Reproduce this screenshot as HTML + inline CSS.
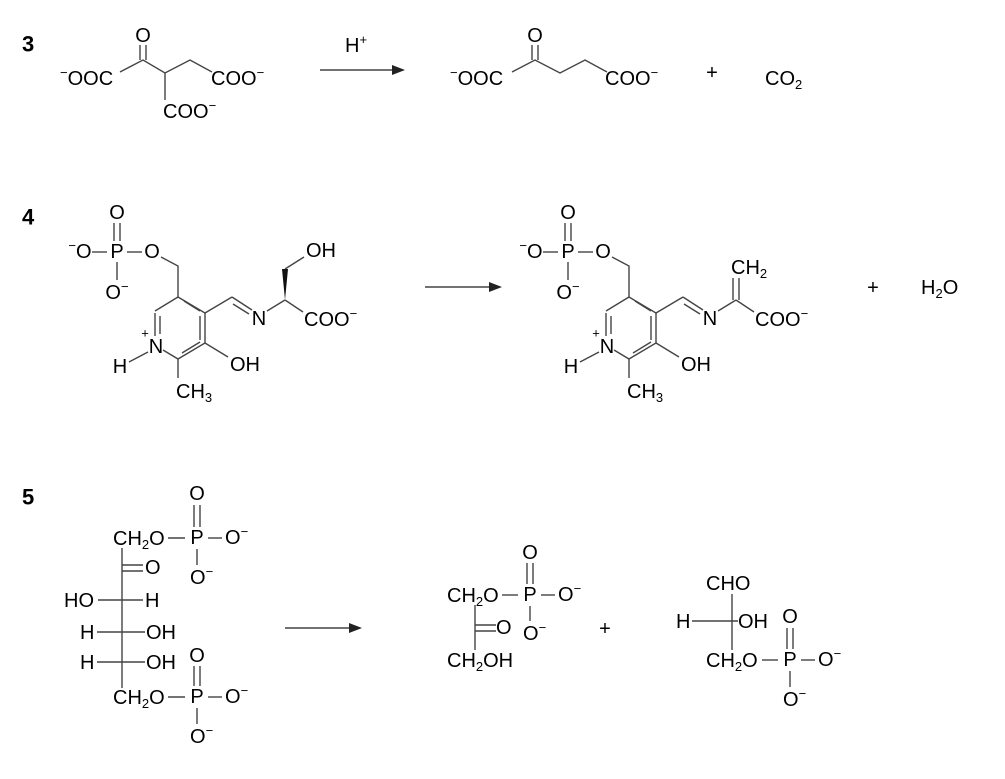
<!DOCTYPE html>
<html><head><meta charset="utf-8"><style>
body{margin:0;background:#fff}
svg{display:block}
text{font-family:"Liberation Sans",Arial,sans-serif;font-size:20px;fill:#000;dominant-baseline:central}
.b{font-weight:bold;font-size:22px}
.s{font-size:13px}
line,polyline{stroke:#444;stroke-width:1.4;fill:none}
</style></head><body>
<svg width="1005" height="779" viewBox="0 0 1005 779">
<!-- Reaction 3 -->
<text class="b" x="22" y="44">3</text>
<text x="60" y="79"><tspan class="s" dy="-7">−</tspan><tspan dy="7">OOC</tspan></text>
<polyline points="120,72 143,60 165,73 190,60 212,72"/>
<line x1="140" y1="45" x2="140" y2="60"/><line x1="146" y1="45" x2="146" y2="60"/>
<text x="143" y="36" text-anchor="middle">O</text>
<line x1="165" y1="73" x2="165" y2="100"/>
<text x="211" y="79">COO<tspan class="s" dy="-7">−</tspan></text>
<text x="163" y="112">COO<tspan class="s" dy="-7">−</tspan></text>
<line x1="320" y1="70" x2="395" y2="70"/><polygon points="405,70 392,65 392,75" fill="#222"/>
<text x="345" y="46">H<tspan class="s" dy="-7">+</tspan></text>
<text x="450" y="79"><tspan class="s" dy="-7">−</tspan><tspan dy="7">OOC</tspan></text>
<polyline points="512,72 535,60 560,73 585,60 607,72"/>
<line x1="532" y1="45" x2="532" y2="60"/><line x1="538" y1="45" x2="538" y2="60"/>
<text x="535" y="36" text-anchor="middle">O</text>
<text x="605" y="79">COO<tspan class="s" dy="-7">−</tspan></text>
<text x="712" y="73" text-anchor="middle">+</text>
<text x="765" y="79">CO<tspan class="s" dy="5">2</tspan></text>

<!-- Reaction 4 -->
<text class="b" x="22" y="217">4</text>
<g id="plp">
<text x="117" y="213" text-anchor="middle">O</text>
<line x1="114" y1="223" x2="114" y2="241"/><line x1="120" y1="223" x2="120" y2="241"/>
<text x="117" y="252" text-anchor="middle">P</text>
<text x="80" y="252" text-anchor="middle"><tspan class="s" dy="-7">−</tspan><tspan dy="7">O</tspan></text>
<line x1="92" y1="252" x2="107" y2="252"/><line x1="127" y1="252" x2="142" y2="252"/>
<text x="152" y="252" text-anchor="middle">O</text>
<line x1="117" y1="262" x2="117" y2="280"/>
<text x="117" y="293" text-anchor="middle">O<tspan class="s" dy="-7">−</tspan></text>
<polyline points="161,257 178,266 178,297"/>
<polyline points="178,297 205,313 205,343 178,359 163,350"/>
<line x1="178" y1="297" x2="155" y2="311"/>
<line x1="155" y1="313" x2="155" y2="336"/>
<line x1="160" y1="316" x2="160" y2="334"/>
<line x1="200" y1="316" x2="200" y2="340"/>
<line x1="182" y1="353" x2="200" y2="342"/>
<line x1="184" y1="301" x2="200" y2="311"/>
<text x="156" y="347" text-anchor="middle">N</text>
<text x="145" y="333" class="s" text-anchor="middle">+</text>
<line x1="148" y1="352" x2="129" y2="362"/>
<text x="120" y="367" text-anchor="middle">H</text>
<line x1="178" y1="359" x2="178" y2="378"/>
<text x="176" y="392">CH<tspan class="s" dy="5">3</tspan></text>
<line x1="205" y1="343" x2="228" y2="357"/>
<text x="230" y="365">OH</text>
<line x1="205" y1="313" x2="232" y2="297"/>
<line x1="232" y1="297" x2="252" y2="310"/>
<line x1="233" y1="304" x2="249" y2="314"/>
<text x="259" y="319" text-anchor="middle">N</text>
<line x1="267" y1="311" x2="285" y2="300"/>
<line x1="285" y1="300" x2="303" y2="312"/>
<text x="304" y="320">COO<tspan class="s" dy="-7">−</tspan></text>
</g>
<polygon points="285,300 282,269 288,269" fill="#111"/>
<line x1="285" y1="269" x2="304" y2="257"/>
<text x="306" y="251">OH</text>
<use href="#plp" x="451"/>
<line x1="733" y1="300" x2="733" y2="278"/><line x1="739" y1="300" x2="739" y2="278"/>
<text x="731" y="268">CH<tspan class="s" dy="5">2</tspan></text>
<line x1="425" y1="287" x2="492" y2="287"/><polygon points="502,287 489,282 489,292" fill="#222"/>
<text x="873" y="288" text-anchor="middle">+</text>
<text x="921" y="288">H<tspan class="s" dy="5">2</tspan><tspan dy="-5">O</tspan></text>

<!-- Reaction 5 -->
<text class="b" x="22" y="497">5</text>
<text x="113" y="539">CH<tspan class="s" dy="5">2</tspan><tspan dy="-5">O</tspan></text>
<line x1="168" y1="538" x2="185" y2="538"/>
<text x="197" y="538" text-anchor="middle">P</text>
<line x1="194" y1="505" x2="194" y2="527"/><line x1="200" y1="505" x2="200" y2="527"/>
<text x="197" y="494" text-anchor="middle">O</text>
<line x1="208" y1="538" x2="222" y2="538"/>
<text x="225" y="538">O<tspan class="s" dy="-7">−</tspan></text>
<line x1="197" y1="549" x2="197" y2="565"/>
<text x="190" y="578">O<tspan class="s" dy="-7">−</tspan></text>
<line x1="122" y1="548" x2="122" y2="688"/>
<line x1="122" y1="565" x2="143" y2="565"/><line x1="122" y1="571" x2="143" y2="571"/>
<text x="145" y="568">O</text>
<text x="64" y="601">HO</text>
<line x1="98" y1="600" x2="143" y2="600"/>
<text x="145" y="601">H</text>
<text x="80" y="633">H</text>
<line x1="97" y1="632" x2="145" y2="632"/>
<text x="146" y="633">OH</text>
<text x="80" y="663">H</text>
<line x1="97" y1="662" x2="145" y2="662"/>
<text x="146" y="663">OH</text>
<text x="113" y="698">CH<tspan class="s" dy="5">2</tspan><tspan dy="-5">O</tspan></text>
<line x1="168" y1="697" x2="185" y2="697"/>
<text x="197" y="697" text-anchor="middle">P</text>
<line x1="194" y1="666" x2="194" y2="686"/><line x1="200" y1="666" x2="200" y2="686"/>
<text x="197" y="656" text-anchor="middle">O</text>
<line x1="208" y1="697" x2="222" y2="697"/>
<text x="225" y="697">O<tspan class="s" dy="-7">−</tspan></text>
<line x1="197" y1="708" x2="197" y2="724"/>
<text x="190" y="737">O<tspan class="s" dy="-7">−</tspan></text>
<line x1="285" y1="628" x2="352" y2="628"/><polygon points="362,628 349,623 349,633" fill="#222"/>
<!-- DHAP -->
<text x="447" y="596">CH<tspan class="s" dy="5">2</tspan><tspan dy="-5">O</tspan></text>
<line x1="502" y1="595" x2="518" y2="595"/>
<text x="530" y="595" text-anchor="middle">P</text>
<line x1="527" y1="563" x2="527" y2="584"/><line x1="533" y1="563" x2="533" y2="584"/>
<text x="530" y="553" text-anchor="middle">O</text>
<line x1="541" y1="595" x2="555" y2="595"/>
<text x="558" y="595">O<tspan class="s" dy="-7">−</tspan></text>
<line x1="530" y1="606" x2="530" y2="621"/>
<text x="523" y="634">O<tspan class="s" dy="-7">−</tspan></text>
<line x1="475" y1="605" x2="475" y2="650"/>
<line x1="475" y1="625" x2="496" y2="625"/><line x1="475" y1="631" x2="496" y2="631"/>
<text x="496" y="628">O</text>
<text x="447" y="661">CH<tspan class="s" dy="5">2</tspan><tspan dy="-5">OH</tspan></text>
<text x="605" y="629" text-anchor="middle">+</text>
<!-- G3P -->
<text x="706" y="584">CHO</text>
<line x1="732" y1="594" x2="732" y2="650"/>
<text x="676" y="622">H</text>
<line x1="692" y1="621" x2="738" y2="621"/>
<text x="738" y="622">OH</text>
<text x="706" y="661">CH<tspan class="s" dy="5">2</tspan><tspan dy="-5">O</tspan></text>
<line x1="762" y1="660" x2="778" y2="660"/>
<text x="790" y="660" text-anchor="middle">P</text>
<line x1="787" y1="628" x2="787" y2="649"/><line x1="793" y1="628" x2="793" y2="649"/>
<text x="790" y="617" text-anchor="middle">O</text>
<line x1="801" y1="660" x2="815" y2="660"/>
<text x="818" y="660">O<tspan class="s" dy="-7">−</tspan></text>
<line x1="790" y1="671" x2="790" y2="687"/>
<text x="783" y="700">O<tspan class="s" dy="-7">−</tspan></text>
</svg>
</body></html>
